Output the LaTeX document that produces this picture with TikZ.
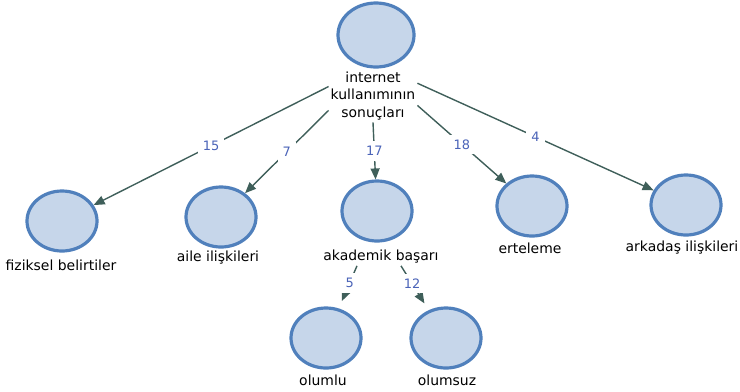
\documentclass[tikz,border=0pt]{standalone}
\usepackage{fontspec}
\setmainfont{DejaVu Sans}
\usetikzlibrary{shapes.geometric,arrows.meta}

\definecolor{ringblue}{HTML}{5080BC}
\definecolor{fillblue}{HTML}{C6D6EA}
\definecolor{linegray}{HTML}{3F5F5A}
\definecolor{numblue}{HTML}{4A63B8}

\tikzset{
    arg/.style={
        draw=ringblue,
        ellipse,
        fill=fillblue,
        line width=3.2bp,
        inner sep=0pt,
        minimum width=70bp,
        minimum height=60bp
    },
    lbl/.style={
        inner sep=2bp,
        align=center,
        font=\fontsize{14}{17.5}\selectfont
    },
    num/.style={
        fill=white,
        inner sep=5bp,
        text=numblue,
        font=\fontsize{13}{15}\selectfont
    }
}

\begin{document}
\begin{tikzpicture}[x=1bp,y=-1bp,>={Triangle[length=11bp,width=9bp]}]
\useasboundingbox (0,0) rectangle (740,391);
		\path
			node[arg,minimum width=76bp,minimum height=64bp] at (376,35) (kok) {}
			node[lbl] at (373,96) (sonuc) {internet\\kullanımının\\sonuçları}
			;
		\path
			node[arg] at (62,221) (fiz) {}
			node[arg] at (221,217) (aile) {}
			node[arg] at (377,211) (akad) {}
			node[arg] at (532,206) (erte) {}
			node[arg] at (686,205) (arka) {}
			;
		\path
			node[lbl] at (61,265) (fizl) {fiziksel belirtiler}
			node[lbl] at (218,258) (ailel) {aile ilişkileri}
			node[lbl] at (381,257) (akadl) {akademik başarı}
			node[lbl] at (530,248) (ertel) {erteleme}
			node[lbl] at (682,248) (arkal) {arkadaş ilişkileri}
			;
		\path
			node[arg] at (326,338) (olml) {}
			node[arg] at (446,338) (olms) {}
			node[lbl] at (323,380) (olmll) {olumlu}
			node[lbl] at (447,380) (olmsl) {olumsuz}
			;

		\path [->,color=linegray,line width=1.4bp]
			(sonuc.168) edge node[num]{15} (fiz)
			(sonuc.198) edge node[num]{7} (aile)
			(sonuc.south) edge node[num]{17} (akad)
			(sonuc.-12) edge node[num]{18} (erte)
			(sonuc.16) edge node[num]{4} (arka)
			;

		\path [->,color=linegray,line width=1.4bp,shorten >=8bp]
			([xshift=-24bp]akadl.south) edge node[num,pos=.4]{5} (olml)
			([xshift=20bp]akadl.south) edge node[num,pos=.4]{12} (olms)
			;
\end{tikzpicture}
\end{document}
